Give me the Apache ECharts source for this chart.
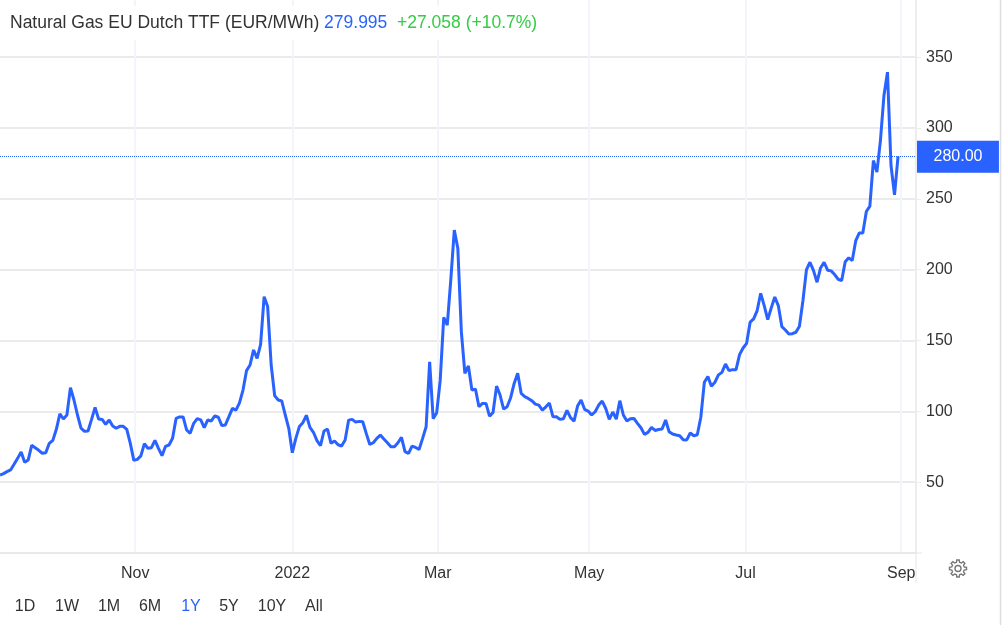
<!DOCTYPE html>
<html>
<head>
<meta charset="utf-8">
<title>Natural Gas EU Dutch TTF</title>
<style>
  html, body { margin: 0; padding: 0; background: #fff; }
  #chart { width: 1004px; height: 625px; }
</style>
</head>
<body>
<div id="chart"></div>
<script src="https://cdn.jsdelivr.net/npm/echarts@6/dist/echarts.min.js"></script>
<script>
// daily prices in EUR/MWh, one per trading day
const prices = [
  55, 56, 57.4, 58.6, 62.6, 66.8, 71.3, 64, 65.6, 76, 74.3, 72.5, 70.4, 70.8, 77.4, 79.5,
  87.3, 98.3, 94.6, 97.4, 116.7, 108, 97.4, 88.2, 85.9, 86.1, 94.3, 102.8, 94.6, 94.3, 90.8, 93.9,
  89.6, 88, 89.4, 89.4, 87.3, 77.4, 65.4, 66.1, 68.5, 77.2, 73.9, 74.3, 79.5, 73.9, 68.7, 75.3,
  76.2, 81, 95, 96, 96, 86.8, 84.5, 91.5, 94.8, 93.9, 88.5, 93.9, 93.2, 96.7, 95.8, 89.9,
  90.4, 96.2, 102.1, 100.9, 106, 115, 128.7, 132.7, 143.3, 137.4, 147.3, 180.9, 173.9, 132.7, 111, 108,
  107.3, 97.4, 88, 70.8, 80.9, 89.2, 92, 97.2, 88.7, 85.2, 79.3, 75.8, 86.1, 87.5,
  77.4, 79, 76.4, 75.5, 79.7, 93.8, 94.3, 92.4, 92.9, 92.6, 84.4, 76.6, 77.8, 80.9, 83.2, 80.4,
  77.8, 75, 75, 77.8, 81.6, 71.5, 70.3, 75.5, 74.5, 73.1, 80.9, 89.1, 135, 94.8, 99, 122,
  166.3, 160.9, 192.6, 227.9, 215, 156.2, 126.8, 132, 115, 115.7, 103.2, 105.6, 105.6, 96.6, 99.2, 117.8,
  111.5, 101.6, 103.2, 109.6, 119.7, 126.8, 112.6, 110.3, 109.1, 107.5, 105.1, 104.4, 100.9, 103.2, 105.8, 96.2,
  96.2, 94.3, 94.8, 100.6, 95.5, 93.1, 103.7, 108, 101.4, 100.2, 97.4, 99.7, 104.4, 107.2, 102, 94.3,
  99.5, 94.5, 107.5, 97.4, 93.1, 94.8, 95, 91.5, 88.4, 83.7, 85.1, 88.6, 86.5, 87.2,
  87.5, 93.9, 85.6, 84, 83.3, 82.8, 80, 79.8, 84.7, 82.8, 83.5, 95.8, 120.5, 124.5, 117.7, 120.5,
  125.7, 127.5, 133.4, 128.7, 129.4, 129.4, 140, 144.7, 148, 162.9, 165.2, 171.1, 183.3, 174.6, 164.7, 173,
  180.7, 174.6, 159.8, 157.4, 154.6, 154.8, 155.8, 160, 178.2, 200, 205.2, 199.3, 191.1, 201.2, 205.2, 199.6,
  199.1, 196.5, 193.2, 192.3, 205.5, 208.3, 206.4, 220.5, 225.9, 225.9, 241, 244.8, 277, 268.8, 291.1, 322.9,
  339.4, 273.5, 252.8, 279.995
]

// month ticks sit at these trading day positions
const monthTicks = [38.4, 83, 124.3, 167.3, 211.7, 255.9]
const monthLabels = ['Nov', '2022', 'Mar', 'May', 'Jul', 'Sep']
const priceTicks = [50, 100, 150, 200, 250, 300, 350]

const rangeLabels = ['1D', '1W', '1M', '6M', '1Y', '5Y', '10Y', 'All']
const rangeCenters = [25, 67, 109, 150, 191, 229, 272, 314]
const activeRange = '1Y'

const seriesName = 'Natural Gas EU Dutch TTF (EUR/MWh)'
const lastPrice = '279.995'
const lastChange = '+27.058 (+10.7%)'
const lastTag = '280.00'

const BLUE = '#2962ff'
const TEXT = '#333333'
const TITLE_SIZE = 17.5
const GRID_RIGHT_X = 916
const GRID_BOTTOM_Y = 553

const myChart = echarts.init(document.getElementById('chart'), null, { renderer: 'canvas' })

// little gear at the bottom right
function gearPoints(cx, cy) {
  const points = []
  const teeth = 8
  for (let i = 0; i < teeth; i++) {
    const a = (i / teeth) * Math.PI * 2
    const spread = Math.PI / teeth
    const steps = [[-0.62, 6.4], [-0.36, 8.6], [0.36, 8.6], [0.62, 6.4]]
    steps.forEach(s => {
      const t = a + s[0] * spread
      points.push([cx + Math.cos(t) * s[1], cy + Math.sin(t) * s[1]])
    })
  }
  return points
}

const graphics = rangeLabels.map((label, i) => ({
  type: 'text',
  x: rangeCenters[i],
  y: 607,
  style: {
    text: label,
    fill: label === activeRange ? BLUE : TEXT,
    font: '16px "Liberation Sans", Arial, sans-serif',
    align: 'center',
    verticalAlign: 'middle'
  }
}))
// the axes run on a bit past the plot area
graphics.push({
  type: 'line',
  shape: { x1: GRID_RIGHT_X, y1: GRID_BOTTOM_Y, x2: GRID_RIGHT_X, y2: 583 },
  style: { stroke: '#e6e6e6', lineWidth: 1 }
})
graphics.push({
  type: 'line',
  shape: { x1: GRID_RIGHT_X, y1: GRID_BOTTOM_Y, x2: 922, y2: GRID_BOTTOM_Y },
  style: { stroke: '#e6e6e6', lineWidth: 1 }
})
// frame edge on the right of the widget
graphics.push({
  type: 'line',
  shape: { x1: 1000.5, y1: 0, x2: 1000.5, y2: 625 },
  style: { stroke: '#dddddd', lineWidth: 1.5 }
})
graphics.push({
  type: 'polygon',
  shape: { points: gearPoints(958, 568.5) },
  style: { fill: 'none', stroke: '#777777', lineWidth: 1.4 }
})
graphics.push({
  type: 'circle',
  shape: { cx: 958, cy: 568.5, r: 3 },
  style: { fill: 'none', stroke: '#777777', lineWidth: 1.4 }
})

const option = {
  animation: false,
  backgroundColor: '#ffffff',
  title: {
    left: 0,
    top: 6,
    padding: [8, 10, 8, 10],
    backgroundColor: '#ffffff',
    text: '{name|' + seriesName + '} {price|' + lastPrice + '}  {change|' + lastChange + '}',
    textStyle: {
      fontWeight: 'normal',
      fontSize: TITLE_SIZE,
      rich: {
        name: { fontFamily: 'Liberation Sans', fontSize: TITLE_SIZE, fontWeight: 'normal', color: TEXT },
        price: { fontFamily: 'Liberation Sans', fontSize: TITLE_SIZE, fontWeight: 'normal', color: BLUE },
        change: { fontFamily: 'Liberation Sans', fontSize: TITLE_SIZE, fontWeight: 'normal', color: '#33cc44' }
      }
    }
  },
  grid: { left: 0, right: 1004 - GRID_RIGHT_X, top: 0, bottom: 625 - GRID_BOTTOM_Y },
  xAxis: {
    type: 'value',
    min: 0,
    max: 260.1,
    axisLine: { show: true, onZero: false, lineStyle: { color: '#e9e9e9', width: 2 } },
    axisTick: { show: false, customValues: monthTicks },
    splitLine: { show: true, lineStyle: { color: '#f2f5f9', width: 2 } },
    axisLabel: {
      customValues: monthTicks,
      margin: 13,
      color: TEXT,
      fontFamily: 'Liberation Sans',
      fontSize: 16,
      formatter: value => monthLabels[monthTicks.indexOf(value)]
    }
  },
  yAxis: {
    type: 'value',
    position: 'right',
    min: 0,
    max: 390.3,
    axisLine: { show: true, onZero: false, lineStyle: { color: '#ededed', width: 2 } },
    axisTick: { show: true, length: 5, customValues: priceTicks, lineStyle: { color: '#ededed', width: 1 } },
    splitLine: { show: true, lineStyle: { color: '#ebebeb', width: 2 } },
    axisLabel: {
      customValues: priceTicks,
      margin: 10,
      color: TEXT,
      fontFamily: 'Liberation Sans',
      fontSize: 16
    }
  },
  series: [
    {
      type: 'line',
      data: prices.map((p, i) => [i, p]),
      symbol: 'none',
      clip: false,
      lineStyle: { color: BLUE, width: 3 },
      markLine: {
        silent: true,
        symbol: 'none',
        lineStyle: { color: BLUE, type: 'dotted', width: 1 },
        label: {
          position: 'end',
          distance: 1,
          offset: [0, 0.5],
          formatter: lastTag,
          color: '#ffffff',
          backgroundColor: BLUE,
          fontFamily: 'Liberation Sans',
          fontSize: 16,
          padding: [8, 16.5, 8, 16.5]
        },
        data: [{ yAxis: prices[prices.length - 1] }]
      }
    }
  ],
  graphic: graphics
}

myChart.setOption(option)
</script>
</body>
</html>
